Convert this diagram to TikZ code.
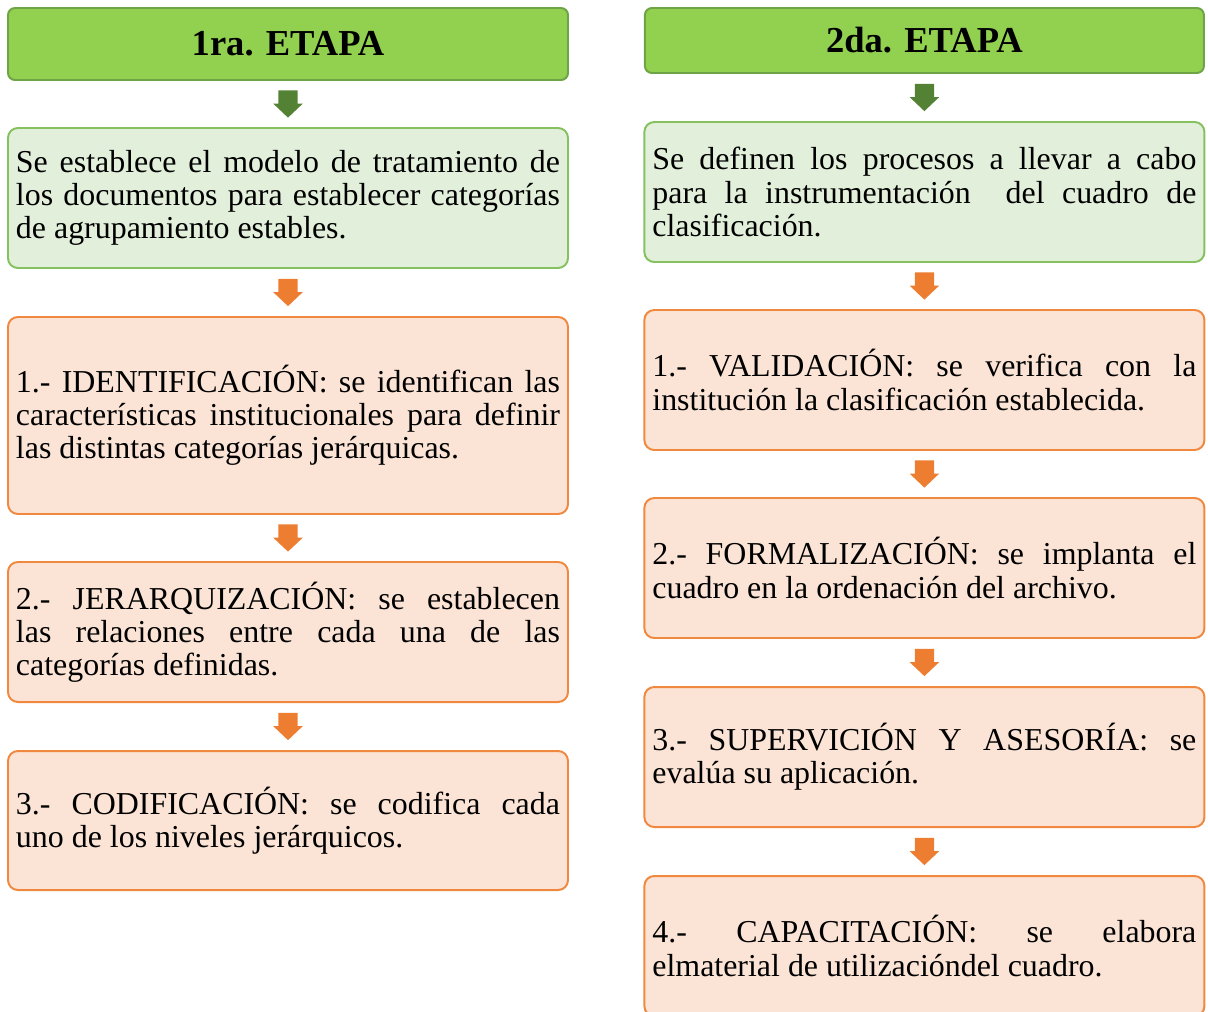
\documentclass[tikz,border=0pt]{standalone}
\usepackage{fontspec}
\setmainfont{Liberation Serif}
\usepackage{tikz}
\usetikzlibrary{calc}
\definecolor{etapagreen}{HTML}{92D050}
\definecolor{etapaedge}{HTML}{6EA346}
\definecolor{palegreen}{HTML}{E2EFDA}
\definecolor{greenedge}{HTML}{86C160}
\definecolor{paleorange}{HTML}{FBE4D5}
\definecolor{orangeedge}{HTML}{F0893F}
\definecolor{arrowgreen}{HTML}{548235}
\definecolor{arroworange}{HTML}{ED7D31}
\tikzset{
  etapa/.style={rounded corners=5pt, draw=etapaedge, line width=1.4pt,
                fill=etapagreen, align=center,
                font=\fontsize{26}{28}\selectfont\bfseries},
  paso/.style={rounded corners=7pt, draw=#1edge, line width=1.4pt,
               fill=pale#1, text width=13.6cm, align=justify,
               inner xsep=0.2cm, inner ysep=0pt,
               font=\fontsize{22.7}{23.5}\selectfont,
               execute at begin node={\hyphenpenalty=10000\tolerance=10000\hbadness=10000}},
}
% block arrow centred between two boxes
\newcommand{\flecha}[3]{%
  \path ($(#1.south)!0.5!(#2.north)$) coordinate (m);
  \fill[#3] ([shift={(-0.24,0.34)}]m) -- ++(0.48,0) -- ++(0,-0.33)
     -- ++(0.13,0) -- ++(-0.37,-0.35) -- ++(-0.37,0.35) -- ++(0.13,0) -- cycle;
}

\begin{document}
\begin{tikzpicture}
\useasboundingbox (0,0) rectangle (30.2,-25.275);

% ---------------- 1ra. etapa ---------------------------------------------
\node[etapa, minimum width=14cm, minimum height=1.8cm] at (7.2,-1.1) (et1)
   {1ra. ETAPA};

\node[paso=green, minimum width=14cm, minimum height=3.5cm] at (7.2,-4.95) (mod)
   {Se establece el modelo de tratamiento de\linebreak
    los documentos para establecer categorías\linebreak
    de agrupamiento estables.};

\node[paso=orange, minimum width=14cm, minimum height=4.925cm] at (7.2,-10.3875) (ident)
   {1.- IDENTIFICACIÓN: se identifican las\linebreak
    características institucionales para definir\linebreak
    las distintas categorías jerárquicas.};

\node[paso=orange, minimum width=14cm, minimum height=3.5cm] at (7.2,-15.8) (jerar)
   {2.- JERARQUIZACIÓN: se establecen\linebreak
    las relaciones entre cada una de las\linebreak
    categorías definidas.};

\node[paso=orange, minimum width=14cm, minimum height=3.475cm] at (7.2,-20.5125) (codif)
   {3.- CODIFICACIÓN: se codifica cada\linebreak
    uno de los niveles jerárquicos.};

\flecha{et1}{mod}{arrowgreen}
\flecha{mod}{ident}{arroworange}
\flecha{ident}{jerar}{arroworange}
\flecha{jerar}{codif}{arroworange}

% ---------------- 2da. etapa ---------------------------------------------
\node[etapa, minimum width=13.975cm, minimum height=1.625cm] at (23.11,-1.0125) (et2)
   {2da. ETAPA};

\node[paso=green, minimum width=13.975cm, minimum height=3.5cm] at (23.11,-4.8) (proc)
   {Se definen los procesos a llevar a cabo\linebreak
    para la instrumentación\ \ del cuadro de\linebreak
    clasificación.};

\node[paso=orange, minimum width=13.975cm, minimum height=3.5cm] at (23.11,-9.5) (valid)
   {1.- VALIDACIÓN: se verifica con la\linebreak
    institución la clasificación establecida.};

\node[paso=orange, minimum width=13.975cm, minimum height=3.5cm] at (23.11,-14.2) (formal)
   {2.- FORMALIZACIÓN: se implanta el\linebreak
    cuadro en la ordenación del archivo.};

\node[paso=orange, minimum width=13.975cm, minimum height=3.5cm] at (23.11,-18.925) (superv)
   {3.- SUPERVICIÓN Y ASESORÍA: se\linebreak
    evalúa su aplicación.};

\node[paso=orange, minimum width=13.975cm, minimum height=3.5cm] at (23.11,-23.65) (capac)
   {4.- CAPACITACIÓN: se elabora\linebreak
    elmaterial de utilizacióndel cuadro.};

\flecha{et2}{proc}{arrowgreen}
\flecha{proc}{valid}{arroworange}
\flecha{valid}{formal}{arroworange}
\flecha{formal}{superv}{arroworange}
\flecha{superv}{capac}{arroworange}
\end{tikzpicture}
\end{document}
